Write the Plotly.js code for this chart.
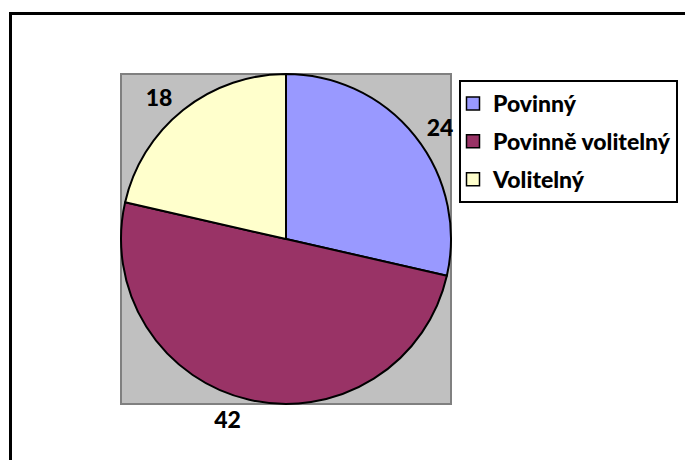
<!DOCTYPE html>
<html>
<head>
<meta charset="utf-8">
<script src="https://cdn.plot.ly/plotly-3.0.1.min.js"></script>
<style>
  html, body { margin: 0; padding: 0; width: 685px; height: 460px; overflow: hidden; background: #fff; }
  #chart { position: absolute; left: 0; top: 0; width: 685px; height: 460px; }
  #frame { position: absolute; left: 9px; top: 12px; width: 800px; height: 600px;
           border-top: 3px solid #000; border-left: 3px solid #000; pointer-events: none; z-index: 5; }
</style>
</head>
<body>
<div id="chart"></div>
<div id="frame"></div>
<script>
// Data
var categories = ['Povinný', 'Povinně volitelný', 'Volitelný'];
var values = [24, 42, 18];
var colors = ['#9999FF', '#993366', '#FFFFCC'];

var fontBold = {family: 'Lato, "Open Sans", sans-serif', size: 23, weight: 900, color: '#000'};

// plot area is 380x380 px; the grey box / pie occupy the inner 330 px
var boxLo = 25 / 380, boxHi = 355 / 380;
var lblLo = 19 / 380, lblHi = 361 / 380;

var traces = [{
  type: 'pie',
  labels: categories,
  values: values,
  sort: false,
  direction: 'clockwise',
  rotation: 0,
  marker: {colors: colors, line: {color: '#000', width: 2}},
  textinfo: 'none',
  showlegend: false,
  hoverinfo: 'none',
  domain: {x: [boxLo, boxHi], y: [boxLo, boxHi]}
}, {
  // same data, transparent, only carries the outside value labels a bit further out
  type: 'pie',
  labels: categories,
  values: values,
  sort: false,
  direction: 'clockwise',
  rotation: 0,
  marker: {colors: ['rgba(0,0,0,0)', 'rgba(0,0,0,0)', 'rgba(0,0,0,0)'], line: {width: 0}},
  textinfo: 'value',
  textposition: 'outside',
  textfont: fontBold,
  outsidetextfont: fontBold,
  showlegend: false,
  hoverinfo: 'none',
  domain: {x: [lblLo, lblHi], y: [lblLo, lblHi]}
}];

// legend entries built from the same arrays
categories.forEach(function (c, i) {
  traces.push({
    type: 'scatter',
    mode: 'markers',
    x: [null], y: [null],
    name: c,
    legendgroup: 'g' + i,
    showlegend: true,
    marker: {symbol: 'square', size: 13, color: colors[i], line: {color: '#000', width: 1.5}},
    hoverinfo: 'none'
  });
});

var layout = {
  width: 685, height: 460,
  margin: {l: 96, r: 209, t: 49, b: 31, autoexpand: false},
  paper_bgcolor: '#ffffff',
  plot_bgcolor: 'rgba(0,0,0,0)',
  xaxis: {visible: false, range: [0, 1], fixedrange: true},
  yaxis: {visible: false, range: [0, 1], fixedrange: true},
  shapes: [{
    type: 'rect', xref: 'paper', yref: 'paper',
    x0: boxLo, x1: boxHi, y0: boxLo, y1: boxHi,
    fillcolor: '#c0c0c0', line: {color: '#808080', width: 2}, layer: 'below'
  }],
  showlegend: true,
  legend: {
    x: (459 - 96) / 380, y: (429 - 80) / 380, xanchor: 'left', yanchor: 'top',
    bordercolor: '#000', borderwidth: 2, bgcolor: '#fff',
    font: fontBold,
    traceorder: 'grouped',
    tracegroupgap: 5,
    indentation: -8
  }
};

Plotly.newPlot('chart', traces, layout, {displayModeBar: false, staticPlot: true});
</script>
</body>
</html>
